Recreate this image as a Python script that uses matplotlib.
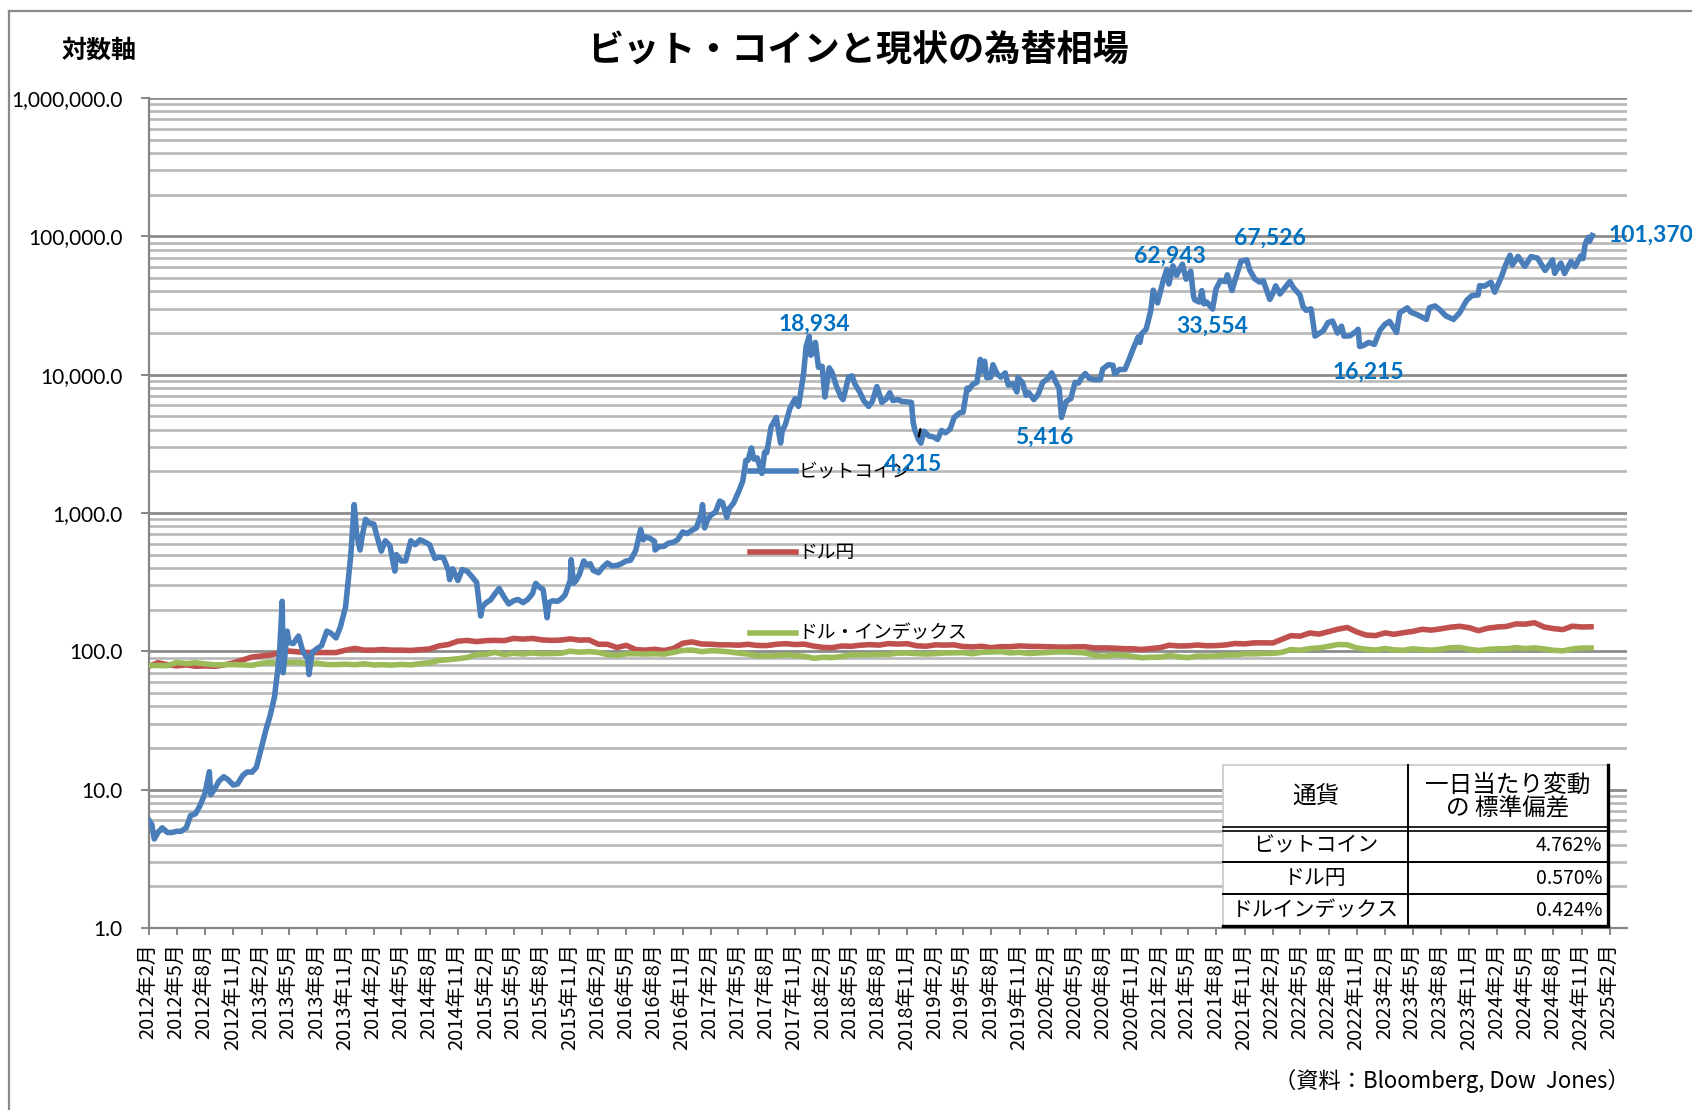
from matplotlib import use; use("Agg")
import matplotlib.pyplot as plt
from matplotlib.lines import Line2D
from matplotlib.patches import Rectangle
from matplotlib.ticker import LogLocator, NullFormatter
import numpy as np
import pandas as pd

plt.rcParams['font.family'] = ['Noto Sans CJK JP', 'DejaVu Sans']

W, H = 1692, 1110

# Bitcoin (USD)
btc_dates = [
    "2012-02-01", "2012-02-10", "2012-02-18", "2012-03-01", "2012-03-15", "2012-04-01", "2012-04-15",
    "2012-05-01", "2012-05-15", "2012-06-01", "2012-06-15", "2012-07-01", "2012-07-15", "2012-08-01",
    "2012-08-15", "2012-08-20", "2012-09-01", "2012-09-15", "2012-10-01", "2012-10-15", "2012-11-01",
    "2012-11-15", "2012-12-01", "2012-12-15",
    "2013-01-01", "2013-01-15", "2013-02-01", "2013-02-15", "2013-03-01", "2013-03-15", "2013-03-25",
    "2013-04-01", "2013-04-09", "2013-04-12", "2013-04-17", "2013-04-25", "2013-05-01", "2013-05-15",
    "2013-06-01", "2013-06-15", "2013-07-01", "2013-07-05", "2013-07-15", "2013-08-01", "2013-08-15",
    "2013-09-01", "2013-09-15", "2013-10-01", "2013-10-15", "2013-11-01", "2013-11-10", "2013-11-18",
    "2013-11-29", "2013-12-07", "2013-12-18", "2013-12-25",
    "2014-01-05", "2014-01-15", "2014-02-01", "2014-02-10", "2014-02-25", "2014-03-10", "2014-03-25",
    "2014-04-10", "2014-04-15", "2014-05-01", "2014-05-15", "2014-06-01", "2014-06-15", "2014-07-01",
    "2014-07-15", "2014-08-01", "2014-08-18", "2014-09-01", "2014-09-15", "2014-10-01", "2014-10-05",
    "2014-10-15", "2014-11-01", "2014-11-15", "2014-12-01", "2014-12-15",
    "2015-01-01", "2015-01-14", "2015-01-20", "2015-02-01", "2015-02-15", "2015-03-01", "2015-03-15",
    "2015-04-01", "2015-04-15", "2015-05-01", "2015-05-15", "2015-06-01", "2015-06-15", "2015-07-01",
    "2015-07-12", "2015-07-25", "2015-08-05", "2015-08-18", "2015-08-24", "2015-09-05", "2015-09-20",
    "2015-10-01", "2015-10-15", "2015-11-01", "2015-11-04", "2015-11-12", "2015-11-20", "2015-12-01",
    "2015-12-15", "2015-12-25",
    "2016-01-05", "2016-01-15", "2016-02-01", "2016-02-15", "2016-03-01", "2016-03-15", "2016-04-01",
    "2016-04-15", "2016-05-01", "2016-05-15", "2016-06-01", "2016-06-17", "2016-06-25", "2016-07-05",
    "2016-07-15", "2016-08-01", "2016-08-03", "2016-08-15", "2016-09-01", "2016-09-15", "2016-10-01",
    "2016-10-15", "2016-11-01", "2016-11-15", "2016-12-01", "2016-12-15",
    "2017-01-01", "2017-01-04", "2017-01-11", "2017-01-20", "2017-02-01", "2017-02-15", "2017-03-01",
    "2017-03-10", "2017-03-24", "2017-04-01", "2017-04-15", "2017-05-01", "2017-05-15", "2017-05-25",
    "2017-06-01", "2017-06-12", "2017-06-20", "2017-07-01", "2017-07-16", "2017-07-25", "2017-08-01",
    "2017-08-15", "2017-09-01", "2017-09-15", "2017-09-20", "2017-10-01", "2017-10-15", "2017-11-01",
    "2017-11-12", "2017-11-28", "2017-12-07", "2017-12-17", "2017-12-22", "2017-12-29",
    "2018-01-06", "2018-01-16", "2018-01-28", "2018-02-06", "2018-02-20", "2018-03-01", "2018-03-15",
    "2018-03-30", "2018-04-06", "2018-04-24", "2018-05-05", "2018-05-15", "2018-05-30", "2018-06-12",
    "2018-06-28", "2018-07-10", "2018-07-25", "2018-08-10", "2018-08-25", "2018-09-05", "2018-09-15",
    "2018-10-01", "2018-10-15", "2018-11-01", "2018-11-14", "2018-11-20", "2018-11-25", "2018-12-07",
    "2018-12-15", "2018-12-25",
    "2019-01-10", "2019-01-25", "2019-02-07", "2019-02-20", "2019-03-05", "2019-03-20", "2019-04-02",
    "2019-04-20", "2019-05-01", "2019-05-14", "2019-05-20", "2019-06-01", "2019-06-15", "2019-06-26",
    "2019-07-01", "2019-07-10", "2019-07-17", "2019-07-30", "2019-08-06", "2019-08-20", "2019-09-01",
    "2019-09-15", "2019-09-25", "2019-10-10", "2019-10-23", "2019-10-26", "2019-11-10", "2019-11-22",
    "2019-12-01", "2019-12-17", "2019-12-31",
    "2020-01-15", "2020-02-01", "2020-02-13", "2020-02-28", "2020-03-08", "2020-03-16", "2020-03-31",
    "2020-04-15", "2020-04-29", "2020-05-10", "2020-05-20", "2020-06-01", "2020-06-15", "2020-07-01",
    "2020-07-20", "2020-07-28", "2020-08-15", "2020-08-30", "2020-09-05", "2020-09-20", "2020-10-08",
    "2020-10-21", "2020-11-05", "2020-11-20", "2020-11-26", "2020-12-01", "2020-12-16", "2020-12-31",
    "2021-01-08", "2021-01-22", "2021-02-08", "2021-02-21", "2021-02-28", "2021-03-13", "2021-03-25",
    "2021-04-13", "2021-04-25", "2021-05-10", "2021-05-19", "2021-05-23", "2021-06-07", "2021-06-15",
    "2021-06-22", "2021-07-01", "2021-07-20", "2021-07-31", "2021-08-14", "2021-08-31", "2021-09-06",
    "2021-09-21", "2021-10-01", "2021-10-20", "2021-11-08", "2021-11-18", "2021-12-04", "2021-12-20",
    "2022-01-01", "2022-01-22", "2022-02-01", "2022-02-10", "2022-02-24", "2022-03-28", "2022-04-10",
    "2022-04-30", "2022-05-10", "2022-05-20", "2022-06-05", "2022-06-18", "2022-06-30", "2022-07-15",
    "2022-07-30", "2022-08-14", "2022-08-30", "2022-09-12", "2022-09-20", "2022-10-10", "2022-10-30",
    "2022-11-05", "2022-11-10", "2022-11-21", "2022-12-10", "2022-12-28",
    "2023-01-15", "2023-01-30", "2023-02-15", "2023-03-10", "2023-03-20", "2023-04-14", "2023-04-25",
    "2023-05-15", "2023-06-15", "2023-06-25", "2023-07-13", "2023-07-30", "2023-08-17", "2023-09-11",
    "2023-10-01", "2023-10-24", "2023-11-10", "2023-11-30", "2023-12-05", "2023-12-20",
    "2024-01-11", "2024-01-23", "2024-02-15", "2024-02-28", "2024-03-13", "2024-03-20", "2024-04-08",
    "2024-04-30", "2024-05-20", "2024-06-10", "2024-07-05", "2024-07-29", "2024-08-05", "2024-08-25",
    "2024-09-06", "2024-09-27", "2024-10-10", "2024-10-29", "2024-11-05", "2024-11-12", "2024-11-22",
    "2024-11-26", "2024-12-05",
]
btc_values = [
    6.0, 5.6, 4.4, 4.9, 5.3, 4.9, 4.9,
    5.0, 5.0, 5.3, 6.5, 6.7, 7.6, 9.4,
    13.5, 9.2, 10.1, 11.5, 12.4, 11.8, 10.8,
    11.0, 12.6, 13.4,
    13.4, 14.5, 20.4, 27, 34.5, 47, 72,
    104, 230, 70, 90, 140, 116, 114,
    129, 100, 88, 68, 98, 105, 110,
    140, 135, 125, 150, 210, 330, 500,
    1150, 700, 540, 680,
    900, 850, 830, 690, 530, 630, 580,
    380, 500, 450, 450, 630, 590, 640,
    620, 590, 470, 480, 475, 385, 330,
    395, 325, 390, 380, 350,
    315, 180, 210, 225, 235, 260, 285,
    245, 220, 232, 237, 225, 236, 260,
    310, 290, 280, 175, 225, 232, 230,
    237, 255, 325, 460, 310, 325, 360,
    450, 420,
    430, 385, 370, 405, 435, 415, 417,
    430, 450, 455, 535, 760, 640, 670,
    660, 625, 540, 570, 575, 605, 615,
    640, 730, 710, 750, 780,
    995, 1150, 780, 890, 970, 1010, 1220,
    1190, 930, 1080, 1180, 1420, 1700, 2400,
    2400, 2950, 2450, 2500, 1930, 2750, 2730,
    4200, 4900, 3200, 3900, 4400, 5700, 6700,
    5900, 9900, 16000, 18934, 13800, 14500,
    17100, 11300, 11500, 6900, 11200, 10400, 8300,
    6900, 6600, 9600, 9800, 8500, 7500, 6500,
    5900, 6400, 8200, 6300, 6700, 7400, 6500,
    6600, 6400, 6350, 6300, 4500, 4000, 3400,
    3200, 3900,
    3600, 3550, 3400, 3950, 3800, 4050, 4900,
    5300, 5350, 8000, 7800, 8500, 8800, 12900,
    10600, 12500, 9500, 9600, 11800, 10100, 9600,
    10300, 8400, 8600, 7500, 9500, 8800, 7100,
    7400, 6600, 7200,
    8800, 9400, 10300, 8700, 8000, 4900, 6400,
    6700, 8800, 8700, 9500, 10200, 9400, 9200,
    9200, 11000, 11800, 11700, 10100, 10900, 10900,
    12800, 15600, 18700, 17100, 19700, 21300, 29000,
    40800, 33000, 46400, 57500, 45200, 61200, 52300,
    62943, 49000, 56000, 37000, 34700, 33500, 40500,
    32500, 33500, 29800, 41500, 47800, 47100, 52700,
    40600, 48200, 66000, 67526, 56900, 49300, 46700,
    47700, 35000, 38700, 43900, 38300, 47100, 42200,
    37700, 31000, 29200, 29900, 19000, 19800, 20800,
    23800, 24400, 20000, 22400, 19000, 19100, 20600,
    21300, 16000, 16215, 17100, 16550,
    20900, 23000, 24300, 20200, 28000, 30400, 28300,
    27200, 25100, 30500, 31400, 29300, 26600, 25100,
    28000, 34500, 37300, 37700, 44000, 43600,
    46600, 39500, 51800, 62500, 73100, 62000, 71600,
    60600, 71400, 69600, 56700, 67500, 54000, 64100,
    53900, 65800, 60400, 72300, 69000, 88000, 98400,
    91900, 101370,
]

# USD/JPY and dollar index, monthly, Feb 2012 - Dec 2024
fx_dates = pd.date_range("2012-02-01", "2024-12-01", freq="MS")
usdjpy = [
    78, 82.8, 80, 78.5, 79.8, 78, 78.5, 77.9, 79.8, 82.5, 86.5,
    91, 92.5, 94, 97.5, 100.5, 99, 98, 98, 98, 98, 102, 105,
    102, 102, 103, 102, 102, 101.5, 102.8, 104, 109.5, 112, 118.5, 119.8,
    117.5, 119.5, 120, 119.5, 124, 122.5, 124, 121, 120, 120.5, 123, 120.5,
    121, 112.5, 112.5, 106.5, 110.5, 103, 102, 103.4, 101.3, 104.8, 114.5, 117,
    113, 112.5, 111.5, 111.5, 110.8, 112.4, 110.3, 110, 112.5, 113.6, 112, 112.7,
    109, 106.7, 106.3, 109.3, 108.8, 110.7, 111.8, 111, 113.7, 112.9, 113.5, 109.7,
    108.9, 111.4, 110.9, 111.4, 108.3, 107.8, 108.7, 106.3, 108.1, 108, 109.5, 108.6,
    108.4, 107.9, 107.5, 107.2, 107.8, 107.9, 105.8, 105.9, 105.5, 104.6, 104.3, 103.2,
    104.7, 106.6, 110.7, 109.3, 109.6, 111.1, 109.7, 110, 111.3, 113.9, 113.2, 115.1,
    115.2, 115, 121.7, 129.8, 128.7, 135.7, 133.3, 138.7, 144.7, 148.7, 138, 131,
    130, 136, 132.8, 136.3, 139.3, 144.3, 142.3, 145.5, 149.4, 151.7, 148.2, 141,
    147, 150, 151.3, 157.8, 157.3, 160.9, 150, 146, 143.6, 152, 150, 150.5,
]
dxy = [
    79, 79, 78.8, 83, 81.6, 82.7, 81.2, 79.9, 80.1, 80.2, 79.8,
    79.2, 82, 83, 81.7, 83.3, 83.2, 81.4, 82.1, 80.2, 80.2, 80.7, 80,
    81.2, 79.7, 80.1, 79.5, 80.4, 79.8, 81.5, 82.8, 86, 87, 88.4, 90.3,
    94.8, 95.3, 98.4, 94.6, 96.9, 95.5, 97.3, 96, 96.3, 96.9, 100.2, 98.6,
    99.6, 98.2, 94.6, 93.1, 95.9, 96.1, 95.5, 96, 95.4, 98.4, 101.5, 102.2,
    99.5, 101.1, 100.4, 99.1, 97, 95.6, 92.9, 92.7, 93.1, 94.5, 93, 92.1,
    89.1, 90.6, 90.1, 91.8, 94, 94.5, 94.5, 95.1, 95.1, 97.1, 97.3, 96.2,
    95.6, 96.2, 97.3, 97.5, 97.8, 96.1, 98.5, 98.9, 99.4, 97.4, 98.3, 96.4,
    97.4, 98.1, 99, 99, 98.3, 97.4, 93.3, 92.1, 93.9, 94, 91.9, 89.9,
    90.6, 90.9, 93.2, 91.3, 90, 92.4, 92.2, 92.6, 94.2, 94.1, 96, 95.7,
    96.5, 96.7, 98.3, 103, 101.8, 104.7, 105.9, 108.7, 112.1, 111.5, 105.9, 103.5,
    102.1, 104.9, 102.5, 101.7, 104.3, 102.9, 101.9, 103.6, 106.2, 106.7, 103.5, 101.3,
    103.3, 104.2, 104.5, 106.2, 104.7, 105.9, 104.1, 101.7, 100.8, 104, 105.7, 105.7,
]

series_names = ["ビットコイン", "ドル円", "ドル・インデックス"]
series_colors = ["#4a7ebb", "#c0504d", "#9bbb59"]

# point labels on the bitcoin line: date, value, text offset in pixels
label_dates = ["2017-12-17", "2018-12-15", "2020-03-16", "2021-04-13", "2021-07-01",
               "2021-11-08", "2022-11-21", "2024-12-05"]
label_values = [18934, 4215, 5416, 62943, 33554, 67526, 16215, 101370]
label_dx = [5, -8, -17, -12, 5, 23, 5, 16]
label_dy = [12, -38, -26, 8, -24, 22, -27, 0]

ytick_values = [1, 10, 100, 1000, 10000, 100000, 1000000]
ytick_labels = ["1.0", "10.0", "100.0", "1,000.0", "10,000.0", "100,000.0", "1,000,000.0"]
xtick_dates = pd.date_range("2012-02-01", "2025-02-01", freq="3MS")
xtick_labels = [f"{d.year}年{d.month}月" for d in xtick_dates]

table_header = ["通貨", "一日当たり変動\nの 標準偏差"]
table_names = ["ビットコイン", "ドル円", "ドルインデックス"]
table_values = ["4.762%", "0.570%", "0.424%"]


def fx(x):
    return x / W


def fy(y):
    return 1 - y / H


fig = plt.figure(figsize=(W / 100, H / 100), dpi=100)
ax = fig.add_axes([fx(149), fy(928), 1478 / W, 830 / H])

LW = 4.0
ax.plot(fx_dates, usdjpy, color=series_colors[1], lw=LW, zorder=3)
ax.plot(fx_dates, dxy, color=series_colors[2], lw=LW, zorder=3)
ax.plot(pd.to_datetime(btc_dates), btc_values, color=series_colors[0], lw=LW,
        solid_joinstyle="round", zorder=4)

ax.set_yscale("log")
ax.set_ylim(1, 1e6)
ax.set_xlim(pd.Timestamp("2012-02-01"), pd.Timestamp("2025-03-28"))

ax.set_yticks(ytick_values)
ax.set_yticklabels(ytick_labels, family="Lato", fontsize=15)
ax.yaxis.set_minor_locator(LogLocator(base=10, subs=np.arange(2, 10)))
ax.yaxis.set_minor_formatter(NullFormatter())
ax.grid(which="major", axis="y", color="#8c8c8c", lw=2.0, zorder=1)
ax.grid(which="minor", axis="y", color="#b8b8b8", lw=1.9, zorder=1)
ax.set_axisbelow(True)

ax.set_xticks(xtick_dates)
ax.set_xticklabels(xtick_labels, rotation=90, va="top", ha="center", fontsize=14.5)

for s in ["top", "right"]:
    ax.spines[s].set_visible(False)
for s in ["left", "bottom"]:
    ax.spines[s].set_color("#868686")
    ax.spines[s].set_linewidth(1.6)
ax.tick_params(axis="y", which="major", direction="out", length=6, width=1.4, color="#868686", pad=13)
ax.tick_params(axis="y", which="minor", length=0)
ax.tick_params(axis="x", which="major", direction="out", length=5, width=1.4, color="#868686", pad=6)

# inline legend
for name, color, ly in zip(series_names, series_colors, [0.5506, 0.453, 0.3554]):
    ax.plot([0.4066, 0.4378], [ly, ly], transform=ax.transAxes, color=color, lw=LW, zorder=5)
    ax.text(0.4394, ly, name, transform=ax.transAxes, va="center", ha="left",
            fontsize=13.5, color="black", zorder=5)

# value labels
for d, v, dx, dy in zip(label_dates, label_values, label_dx, label_dy):
    ha = "left" if d == label_dates[-1] else "center"
    kw = {}
    if v == 4215:
        kw["arrowprops"] = dict(arrowstyle="-", color="black", lw=1.8, shrinkA=11, shrinkB=2)
    ax.annotate(f"{v:,}", xy=(pd.Timestamp(d), v), xytext=(dx, dy), textcoords="offset pixels",
                ha=ha, va="center", color="#0070c0", fontsize=16.5, fontweight="bold",
                family="Lato", zorder=6, annotation_clip=False, **kw)

# titles
fig.text(fx(858), fy(51), "ビット・コインと現状の為替相場", ha="center", va="center",
         fontsize=26, fontweight="bold")
fig.text(fx(99), fy(51), "対数軸", ha="center", va="center", fontsize=18, fontweight="bold")
fig.text(fx(1630), fy(1081), "（資料：Bloomberg, Dow  Jones）", ha="right", va="center", fontsize=16)

# table of daily standard deviations
x0, x1, xm = 1223, 1608, 1408
y0, yh, y1 = 765, 829, 926
rows = [829, 862, 894, 926]
fig.add_artist(Rectangle((fx(x0), fy(y1)), (x1 - x0) / W, (y1 - y0) / H, transform=fig.transFigure,
                         facecolor="white", edgecolor="#c8c8c8", lw=1.2, zorder=5))
def hline(y, lw=1.4):
    fig.add_artist(Line2D([fx(x0), fx(x1)], [fy(y), fy(y)], color="black", lw=lw, zorder=6))
def vline(x, lw=1.4):
    fig.add_artist(Line2D([fx(x), fx(x)], [fy(y0), fy(y1)], color="black", lw=lw, zorder=6))
hline(827, 1.2)
hline(831, 1.2)
hline(862)
hline(894)
hline(926, 2.4)
vline(xm)
vline(x1, 2.4)

fig.text(fx((x0 + xm) / 2), fy((y0 + yh) / 2), table_header[0], ha="center", va="center",
         fontsize=17, zorder=7)
fig.text(fx((xm + x1) / 2), fy((y0 + yh) / 2), table_header[1], ha="center", va="center",
         fontsize=17, linespacing=1.0, zorder=7)
for i, (n, v) in enumerate(zip(table_names, table_values)):
    yc = (rows[i] + rows[i + 1]) / 2
    fig.text(fx((x0 + xm) / 2), fy(yc), n, ha="center", va="center", fontsize=15, zorder=7)
    fig.text(fx(x1 - 6), fy(yc), v, ha="right", va="center", fontsize=14, zorder=7)

# outer frame of the picture
fig.add_artist(Line2D([fx(9), fx(9)], [fy(11), 0], color="#8a8a8a", lw=1.6))
fig.add_artist(Line2D([fx(9), 1], [fy(11), fy(11)], color="#8a8a8a", lw=1.6))

fig.savefig("out.png", dpi=100)
